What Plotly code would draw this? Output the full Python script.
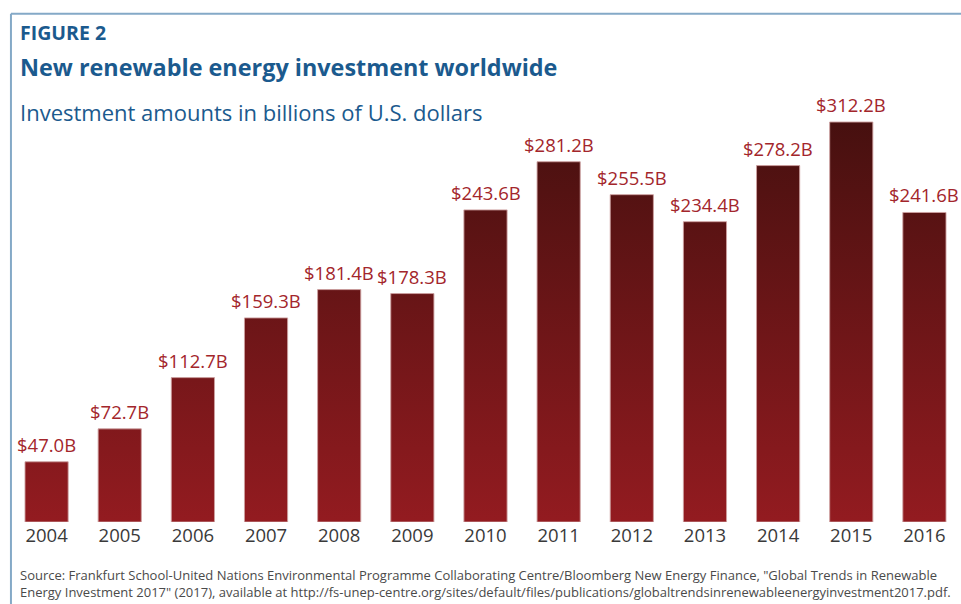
import plotly.graph_objects as go

# Annual new renewable energy investment, billions of U.S. dollars
years = ["2004", "2005", "2006", "2007", "2008", "2009", "2010",
         "2011", "2012", "2013", "2014", "2015", "2016"]
investment = [47.0, 72.7, 112.7, 159.3, 181.4, 178.3, 243.6,
              281.2, 255.5, 234.4, 278.2, 312.2, 241.6]

source_lines = [
    'Source: Frankfurt School-United Nations Environmental Programme Collaborating Centre/Bloomberg New Energy Finance, "Global Trends in Renewable',
    'Energy Investment 2017" (2017), available at http://fs-unep-centre.org/sites/default/files/publications/globaltrendsinrenewableenergyinvestment2017.pdf.',
]

BLUE = "#1b5a8e"
LABEL_RED = "#a3262b"
FONT = "Open Sans"
HALF_W = 0.295

# Build each bar as a filled rectangle so one vertical gradient spans all bars
xs, ys = [], []
for i, v in enumerate(investment):
    xs += [i - HALF_W, i - HALF_W, i + HALF_W, i + HALF_W, i - HALF_W, None]
    ys += [0, v, v, 0, 0, None]

fig = go.Figure()
fig.add_trace(go.Scatter(
    x=xs, y=ys, mode="lines", fill="toself",
    line=dict(color="rgba(205,160,160,0.9)", width=1),
    fillgradient=dict(type="vertical",
                      colorscale=[[0, "#931b20"], [1, "#46100f"]],
                      start=0, stop=315),
    hoverinfo="skip", showlegend=False,
))

# Value labels above bars
for i, v in enumerate(investment):
    fig.add_annotation(x=i, y=v, xref="x", yref="y", text=f"${v:.1f}B",
                       showarrow=False, yanchor="bottom", yshift=3,
                       font=dict(family=FONT, size=18.5, color=LABEL_RED))

# Headings
fig.add_annotation(xref="paper", yref="paper", x=0, y=1, xanchor="left", yanchor="bottom",
                   xshift=8, yshift=32, text="<b>FIGURE 2</b>", showarrow=False,
                   font=dict(family=FONT, size=19.5, color=BLUE))
fig.add_annotation(xref="paper", yref="paper", x=0, y=1, xanchor="left", yanchor="bottom",
                   xshift=8, yshift=-5, text="<b>New renewable energy investment worldwide</b>",
                   showarrow=False, font=dict(family=FONT, size=23.4, color=BLUE))
fig.add_annotation(xref="paper", yref="paper", x=0, y=1, xanchor="left", yanchor="bottom",
                   xshift=8, yshift=-49, text="Investment amounts in billions of U.S. dollars",
                   showarrow=False, font=dict(family=FONT, size=22, color=BLUE))

# Source note
fig.add_annotation(xref="paper", yref="paper", x=0, y=0, xanchor="left", yanchor="top",
                   xshift=8, yshift=-42, text="<br>".join(source_lines), align="left",
                   showarrow=False, font=dict(family=FONT, size=13, color="#4a4a4a"))

# Frame along top and left edges
fig.add_shape(type="line", xref="paper", yref="paper", x0=0.001, x1=1.02, y0=1.15, y1=1.15,
              line=dict(color="#84a9c7", width=2))
fig.add_shape(type="line", xref="paper", yref="paper", x0=0.001, x1=0.001, y0=1.15, y1=-0.2,
              line=dict(color="#84a9c7", width=2))

fig.update_xaxes(range=[-0.5, 12.5], tickmode="array", tickvals=list(range(len(years))),
                 ticktext=years, showgrid=False, zeroline=False, showline=False, ticks="",
                 tickfont=dict(family=FONT, size=18.5, color="#3a3a3a"), fixedrange=True)
fig.update_yaxes(range=[0, 345], visible=False, showgrid=False, zeroline=False, fixedrange=True)

fig.update_layout(
    width=961, height=604,
    margin=dict(l=10, r=0, t=80, b=82),
    paper_bgcolor="white", plot_bgcolor="white",
    showlegend=False,
)

fig.write_html("out.html", config={"displayModeBar": False})
